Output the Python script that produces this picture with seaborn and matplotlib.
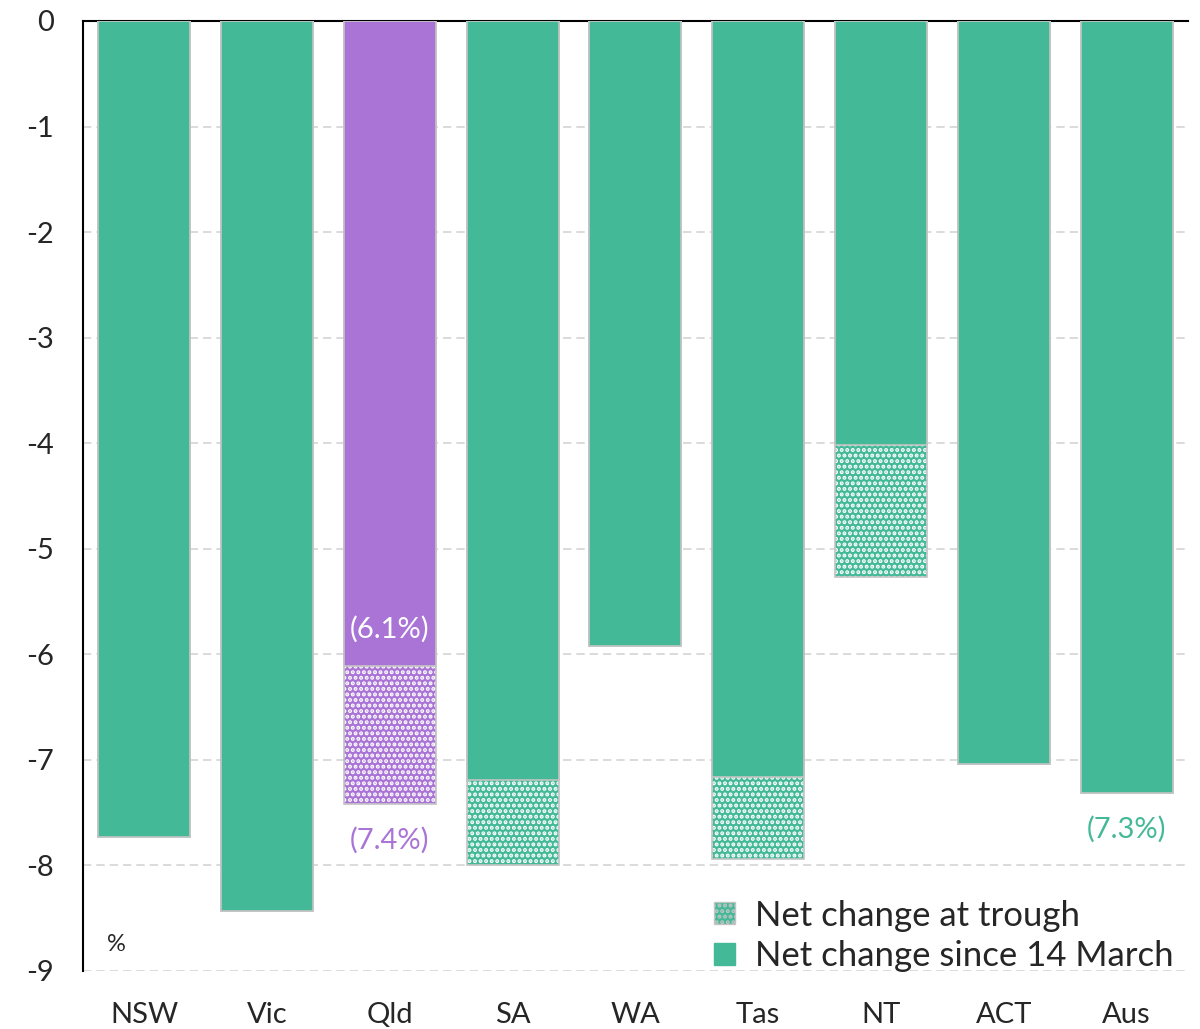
import pandas as pd
import matplotlib.pyplot as plt
import seaborn as sns
from matplotlib.patches import Patch

# data (percent change in jobs)
states = ['NSW', 'Vic', 'Qld', 'SA', 'WA', 'Tas', 'NT', 'ACT', 'Aus']
since_march = [-7.73, -8.43, -6.11, -7.19, -5.92, -7.16, -4.02, -7.04, -7.31]
at_trough = [-7.73, -8.43, -7.42, -8.00, -5.92, -7.94, -5.27, -7.04, -7.31]

GREEN = '#43b997'
PURPLE = '#a974d6'
EDGE = '#c4c4c4'

colors = [PURPLE if s == 'Qld' else GREEN for s in states]

df = pd.DataFrame({'State': states, 'Since': since_march, 'Trough': at_trough})

sns.set_style('white')
plt.rcParams['font.family'] = ['Lato', 'DejaVu Sans']
plt.rcParams['axes.unicode_minus'] = False
plt.rcParams['hatch.linewidth'] = 2.0
plt.rcParams['hatch.color'] = 'white'

fig = plt.figure(figsize=(12, 10.29), dpi=100)
ax = fig.add_axes([0.069, 0.0564, 0.921, 0.9232])

# trough bars: hatched, drawn first (white hatch, then grey outline)
sns.barplot(data=df, x='State', y='Trough', hue='State', palette=colors,
            legend=False, width=0.75, saturation=1, ax=ax,
            edgecolor='white', linewidth=0, hatch='...', zorder=2)
sns.barplot(data=df, x='State', y='Trough', width=0.75, ax=ax,
            fill=False, edgecolor=EDGE, linewidth=1.2, zorder=3)
# since 14 March bars on top
sns.barplot(data=df, x='State', y='Since', hue='State', palette=colors,
            legend=False, width=0.75, saturation=1, ax=ax,
            edgecolor=EDGE, linewidth=1.2, zorder=4)

ax.set_ylim(-9, 0)
ax.set_xlim(-0.5, len(states) - 0.5)
ax.set_yticks(range(-9, 1))
ax.set_yticklabels([str(v) for v in range(-9, 1)])
ax.yaxis.grid(True, color='#d4d4d4', linestyle=(0, (5, 3)), linewidth=1.2, zorder=0)
ax.set_axisbelow(True)
ax.set_xlabel('')
ax.set_ylabel('')

for side in ['right', 'bottom']:
    ax.spines[side].set_visible(False)
ax.spines['left'].set_linewidth(1.5)
ax.spines['left'].set_color('black')
ax.spines['top'].set_linewidth(1.5)
ax.spines['top'].set_color('black')

ax.tick_params(axis='y', direction='out', length=7, width=1.5, color='black',
               labelsize=21, pad=14)
ax.tick_params(axis='x', length=0, labelsize=21, pad=22)

# annotations
ax.text(2, -5.76, '(6.1%)', color='white', ha='center', va='center', fontsize=21, zorder=6)
ax.text(2, -7.76, '(7.4%)', color=PURPLE, ha='center', va='center', fontsize=21, zorder=6)
ax.text(8, -7.66, '(7.3%)', color=GREEN, ha='center', va='center', fontsize=21, zorder=6)
ax.text(0.03, -8.75, '%', fontsize=17, va='center', ha='center',
        transform=ax.get_yaxis_transform())

handles = [
    Patch(facecolor=GREEN, edgecolor='white', hatch='...', label='Net change at trough'),
    Patch(facecolor=GREEN, edgecolor=GREEN, label='Net change since 14 March'),
]
leg = ax.legend(handles=handles, loc='lower right', frameon=False, fontsize=25,
                handlelength=0.6, handleheight=0.6, handletextpad=0.6,
                labelspacing=0.25, borderaxespad=0.0, bbox_to_anchor=(1.0, -0.016))
for h in leg.legend_handles:
    h.set_linewidth(1)
leg.legend_handles[0].set_edgecolor(EDGE)

fig.savefig('out.png', dpi=100)
